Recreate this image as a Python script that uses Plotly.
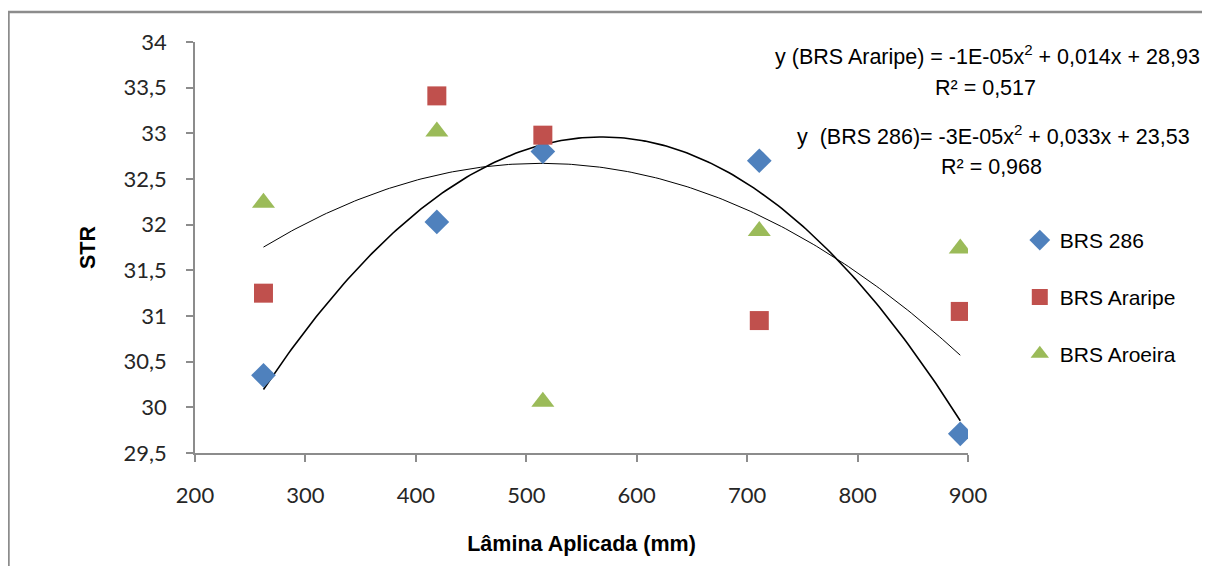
import numpy as np
import plotly.graph_objects as go

# ---- data ----
lamina = [262, 419, 515, 711, 893]
brs_286 = [30.35, 32.03, 32.80, 32.70, 29.71]
brs_araripe = [31.25, 33.41, 32.98, 30.95, 31.05]
brs_aroeira = [32.24, 33.02, 30.06, 31.93, 31.74]

x_ticks = [200, 300, 400, 500, 600, 700, 800, 900]
x_ticklabels = ["200", "300", "400", "500", "600", "700", "800", "900"]
y_ticks = [29.5, 30, 30.5, 31, 31.5, 32, 32.5, 33, 33.5, 34]
y_ticklabels = ["29,5", "30", "30,5", "31", "31,5", "32", "32,5", "33", "33,5", "34"]

eq_araripe = "y (BRS Araripe) = -1E-05x<sup>2</sup> + 0,014x + 28,93"
r2_araripe = "R² = 0,517"
eq_286 = "y  (BRS 286)= -3E-05x<sup>2</sup> + 0,033x + 23,53"
r2_286 = "R² = 0,968"

BLUE = "#4F81BD"
RED = "#C0504D"
GREEN = "#9BBB59"

fig = go.Figure()

# polynomial (order 2) trendlines fitted from the data
xs = np.linspace(min(lamina), max(lamina), 200)
c286 = np.polyfit(lamina, brs_286, 2)
cara = np.polyfit(lamina, brs_araripe, 2)
fig.add_trace(go.Scatter(x=xs, y=np.polyval(cara, xs), mode="lines",
                         line=dict(color="black", width=1), showlegend=False, hoverinfo="skip"))
fig.add_trace(go.Scatter(x=xs, y=np.polyval(c286, xs), mode="lines",
                         line=dict(color="black", width=1.6), showlegend=False, hoverinfo="skip"))

fig.add_trace(go.Scatter(x=lamina, y=brs_286, mode="markers", name="BRS 286",
                         legendgroup="a",
                         marker=dict(symbol="diamond", size=19, color=BLUE)))
fig.add_trace(go.Scatter(x=lamina, y=brs_araripe, mode="markers", name="BRS Araripe",
                         legendgroup="b",
                         marker=dict(symbol="square", size=19, color=RED)))
fig.add_trace(go.Scatter(x=lamina, y=brs_aroeira, mode="markers", name="BRS Aroeira",
                         legendgroup="c",
                         marker=dict(symbol="triangle-up", size=20, color=GREEN)))

tickfont = dict(family="Lato, Open Sans, sans-serif", size=22, color="#262626")
axcol = "#8c8c8c"
boldfont = dict(family="Liberation Sans, Arial, sans-serif", size=21.5, color="black")

fig.update_layout(
    width=1210, height=566,
    margin=dict(l=187, r=250, t=34, b=121),
    paper_bgcolor="white", plot_bgcolor="white",
    showlegend=True,
    legend=dict(x=1.067, y=0.567, xanchor="left", yanchor="top",
                font=dict(family="Liberation Sans, Arial, sans-serif", size=21, color="black"),
                tracegroupgap=26.5, bgcolor="rgba(0,0,0,0)"),
    xaxis=dict(range=[200, 900], tickvals=x_ticks, ticktext=x_ticklabels,
               showgrid=False, zeroline=False, showline=True, linecolor=axcol, linewidth=1.5,
               ticks="outside", ticklen=7, tickcolor=axcol, tickwidth=1.5,
               tickfont=tickfont, ticklabelstandoff=15,
               title=dict(text="<b>Lâmina Aplicada (mm)</b>", standoff=29, font=boldfont)),
    yaxis=dict(range=[29.5, 34], tickvals=y_ticks, ticktext=y_ticklabels,
               showgrid=False, zeroline=False, showline=True, linecolor=axcol, linewidth=1.5,
               ticks="outside", ticklen=7, tickcolor=axcol, tickwidth=1.5,
               tickfont=tickfont, ticklabelstandoff=15,
               title=dict(text="<b>STR</b>", standoff=22, font=boldfont)),
)

annfont = dict(family="Liberation Sans, Arial, sans-serif", size=21.5, color="black")
fig.add_annotation(xref="paper", yref="paper", x=1.3027, y=0.968, xanchor="right", yanchor="middle",
                   text=eq_araripe, showarrow=False, font=annfont)
fig.add_annotation(xref="paper", yref="paper", x=1.022, y=0.888, xanchor="center", yanchor="middle",
                   text=r2_araripe, showarrow=False, font=annfont)
fig.add_annotation(xref="paper", yref="paper", x=1.290, y=0.774, xanchor="right", yanchor="middle",
                   text=eq_286, showarrow=False, font=annfont)
fig.add_annotation(xref="paper", yref="paper", x=1.031, y=0.696, xanchor="center", yanchor="middle",
                   text=r2_286, showarrow=False, font=annfont)

# outer chart frame
fig.add_shape(type="rect", xref="paper", yref="paper", x0=-0.2413, y0=-0.35, x1=1.35, y1=1.073,
              line=dict(color="#8c8c8c", width=2.5), fillcolor="rgba(0,0,0,0)", layer="below")

fig.write_html("out.html")
